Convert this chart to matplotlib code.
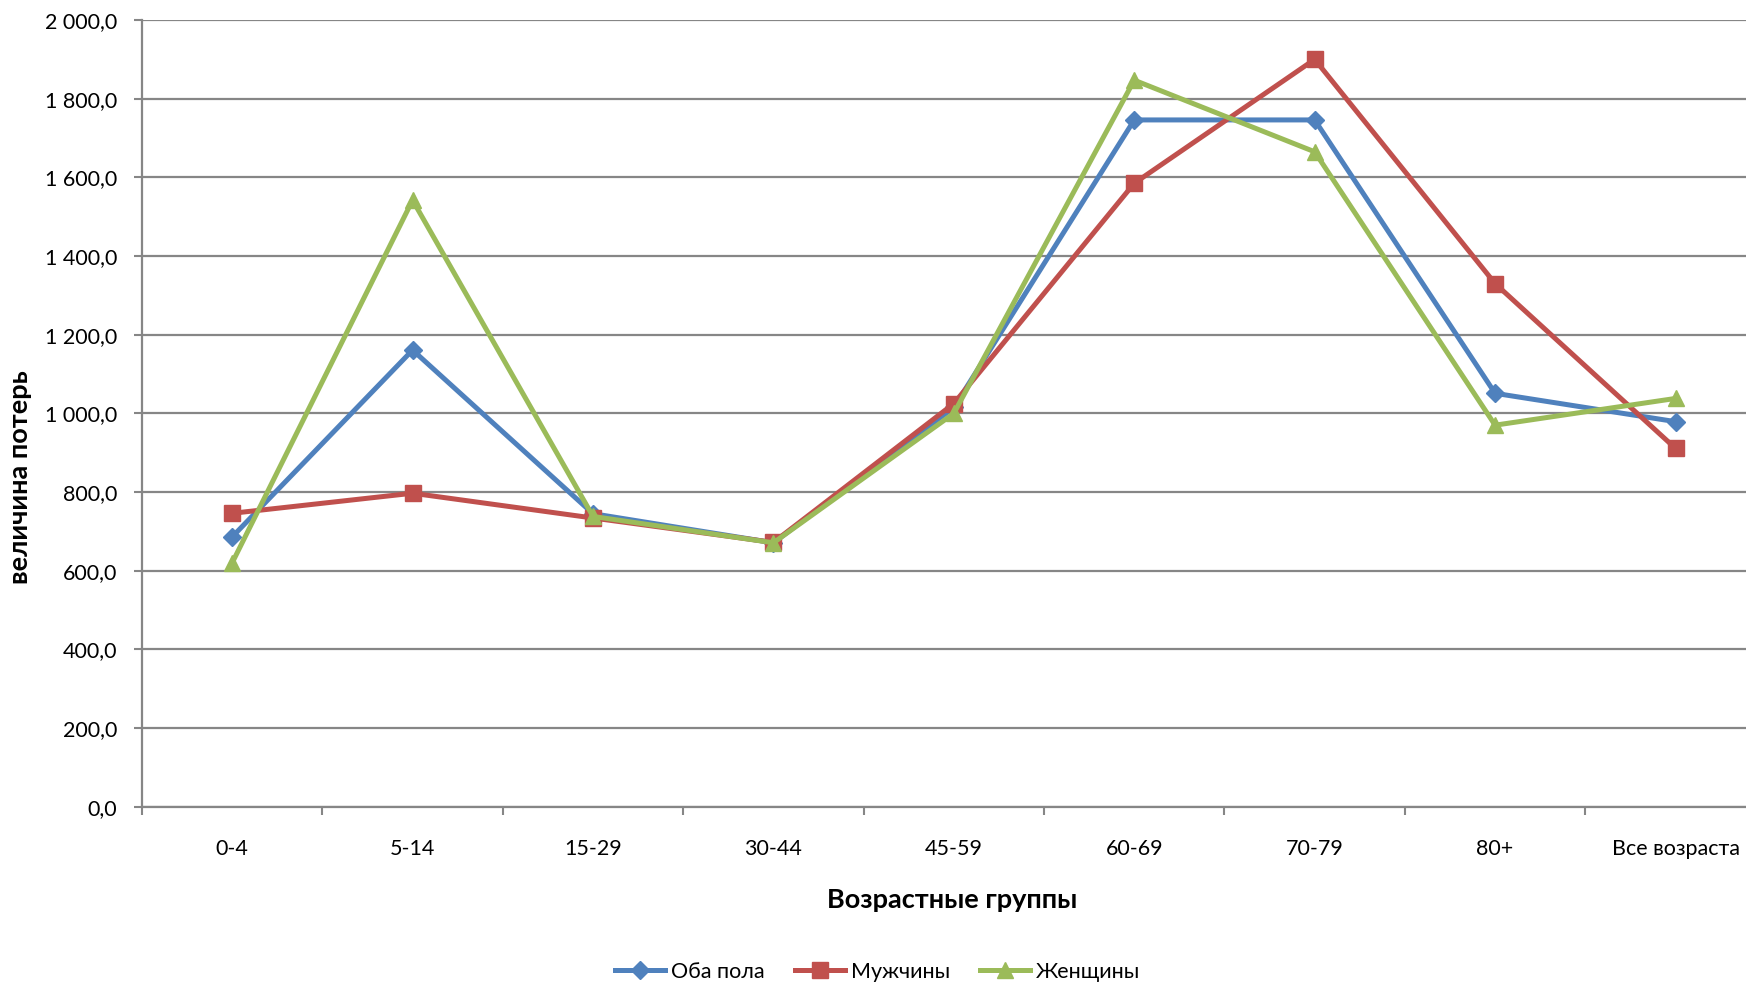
import matplotlib
matplotlib.use("Agg")
import matplotlib.pyplot as plt
from matplotlib.ticker import FuncFormatter, FixedLocator

plt.rcParams['font.family'] = ['Lato', 'DejaVu Sans']

categories = ["0-4", "5-14", "15-29", "30-44", "45-59", "60-69", "70-79", "80+", "Все возраста"]
both = [686, 1161, 745, 671, 1015, 1746, 1746, 1051, 979]
men = [746, 797, 734, 672, 1025, 1585, 1900, 1330, 911]
women = [620, 1542, 738, 671, 1000, 1847, 1665, 970, 1038]

fig = plt.figure(figsize=(17.46, 9.86), dpi=100)
ax = fig.add_axes([0.0813, 0.1818, 0.930, 0.7979])

x = list(range(len(categories)))
ax.plot(x, both, color="#4F81BD", lw=3.6, marker="D", ms=9, label="Оба пола")
ax.plot(x, men, color="#C0504D", lw=3.6, marker="s", ms=11, label="Мужчины")
ax.plot(x, women, color="#9BBB59", lw=3.6, marker="^", ms=12, label="Женщины")

ax.set_xlim(-0.5, len(categories) - 0.5)
ax.set_ylim(0, 2000)
ax.set_yticks(range(0, 2001, 200))
ax.yaxis.set_major_formatter(FuncFormatter(
    lambda v, p: "{:,.1f}".format(v).replace(",", " ").replace(".", ",")))
ax.grid(axis="y", color="#868686", lw=1.6)
ax.set_axisbelow(True)

ax.set_xticks(x)
ax.set_xticklabels(categories)
ax.xaxis.set_minor_locator(FixedLocator([i - 0.5 for i in range(len(categories) + 1)]))
ax.tick_params(axis="x", which="major", length=0, pad=23, labelsize=15.5)
ax.tick_params(axis="x", which="minor", length=6, width=1.5, color="#868686")
ax.tick_params(axis="y", length=6, width=1.5, color="#868686", pad=12, labelsize=15.5)

for s in ["top", "right"]:
    ax.spines[s].set_visible(False)
for s in ["left", "bottom"]:
    ax.spines[s].set_color("#868686")
    ax.spines[s].set_linewidth(1.6)

fig.text(20 / 1746, (986 - 477) / 986, "величина потерь", rotation=90, ha="center", va="center",
         fontsize=19.5, fontweight="bold")
fig.text(952 / 1746, (986 - 900) / 986, "Возрастные группы", ha="center", va="center",
         fontsize=19.5, fontweight="bold")

fig.legend(loc="center", bbox_to_anchor=(878 / 1746, 14 / 986), ncol=3, frameon=False,
           fontsize=15.5, handlelength=2.3, columnspacing=1.4, handletextpad=0.3)

fig.savefig("out.png", dpi=100)
